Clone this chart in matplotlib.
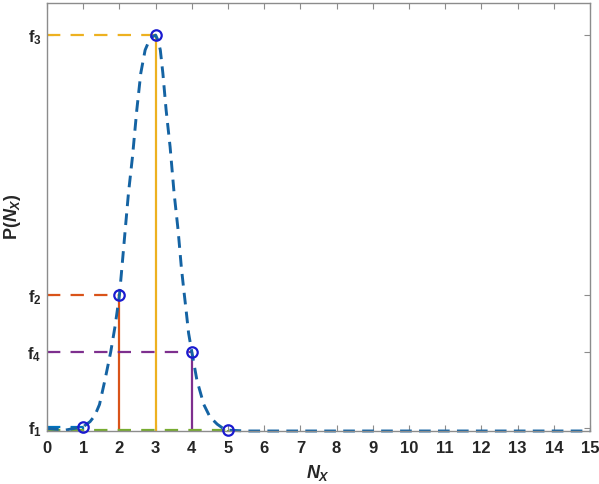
import matplotlib
matplotlib.use("Agg")
import matplotlib.pyplot as plt

plt.rcParams['font.family'] = ['Liberation Sans', 'DejaVu Sans']
plt.rcParams['font.weight'] = 'bold'
plt.rcParams['mathtext.fontset'] = 'custom'
plt.rcParams['mathtext.rm'] = 'Liberation Sans:bold'
plt.rcParams['mathtext.it'] = 'Liberation Sans:italic:bold'
plt.rcParams['mathtext.bf'] = 'Liberation Sans:bold'

# ---- data (y in arbitrary units 0..1) ----
pt_x = [1, 2, 3, 4, 5]
pt_y = [0.010, 0.317, 0.925, 0.185, 0.002]
pt_colors = ['#0072BD', '#D95319', '#EDB120', '#7E2F8E', '#77AC30']

curve_x = [0.0, 0.5, 1.0, 1.19, 1.32, 1.45, 1.60, 1.76, 1.88, 2.0, 2.03, 2.07,
           2.16, 2.25, 2.36, 2.48, 2.59, 2.71, 2.85, 3.0, 3.07, 3.13, 3.20,
           3.29, 3.40, 3.51, 3.62, 3.71, 3.77, 3.85, 3.91, 4.0, 4.14, 4.33,
           4.50, 4.70, 4.85, 5.0, 5.5, 6, 7, 8, 9, 10, 11, 12, 13, 14, 15]
curve_y = [0.006, 0.002, 0.010, 0.022, 0.036, 0.062, 0.119, 0.185, 0.245, 0.317,
           0.345, 0.383, 0.470, 0.556, 0.640, 0.750, 0.836, 0.890, 0.918, 0.925,
           0.912, 0.890, 0.836, 0.750, 0.664, 0.556, 0.470, 0.383, 0.336, 0.276,
           0.229, 0.185, 0.119, 0.062, 0.033, 0.016, 0.007, 0.002, 0.0, 0.0,
           0.0, 0.0, 0.0, 0.0, 0.0, 0.0, 0.0, 0.0, 0.0]

x_ticks = list(range(0, 16))
y_tick_vals = [0.008, 0.185, 0.317, 0.925]
y_tick_labels = ['f$_1$', 'f$_4$', 'f$_2$', 'f$_3$']

fig = plt.figure(figsize=(5.99, 4.84), dpi=100)
ax = fig.add_axes([0.0785, 0.1095, 0.9065, 0.8843])

# reference lines
for x, y, c in zip(pt_x, pt_y, pt_colors):
    ax.plot([x, x], [0, y], color=c, lw=1.6, solid_capstyle='butt', clip_on=False)
    ax.plot([0, x], [y, y], color=c, lw=1.6, dashes=(6.0, 4.6), clip_on=False)

# dashed curve
ax.plot(curve_x, curve_y, color='#1463a3', lw=2.1, dashes=(4.0, 2.5),
        clip_on=False, solid_joinstyle='round')

# circles
ax.plot(pt_x, pt_y, linestyle='none', marker='o', markersize=7.5,
        markerfacecolor='none', markeredgecolor='#1a1ad0', markeredgewidth=1.6,
        clip_on=False, zorder=5)

ax.set_xlim(0, 15)
ax.set_ylim(0, 1)
ax.set_xticks(x_ticks)
ax.set_xticklabels([str(t) for t in x_ticks])
ax.set_yticks(y_tick_vals)
ax.set_yticklabels(y_tick_labels)

for lab in ax.get_xticklabels() + ax.get_yticklabels():
    lab.set_fontweight('bold')
    lab.set_fontsize(12)
    lab.set_color('#262626')

ax.tick_params(axis='x', pad=7)
ax.tick_params(axis='y', pad=4)
ax.tick_params(direction='in', length=4, width=0.8, color='#8c8c8c',
               top=True, right=True)
for s in ax.spines.values():
    s.set_color('#8c8c8c')
    s.set_linewidth(1.0)

ax.set_xlabel('$N_X$', fontsize=13, color='#262626', labelpad=5)
ax.set_ylabel('P($N_X$)', fontsize=13, fontweight='bold', color='#262626', labelpad=3)

fig.savefig('out.png', dpi=100)
